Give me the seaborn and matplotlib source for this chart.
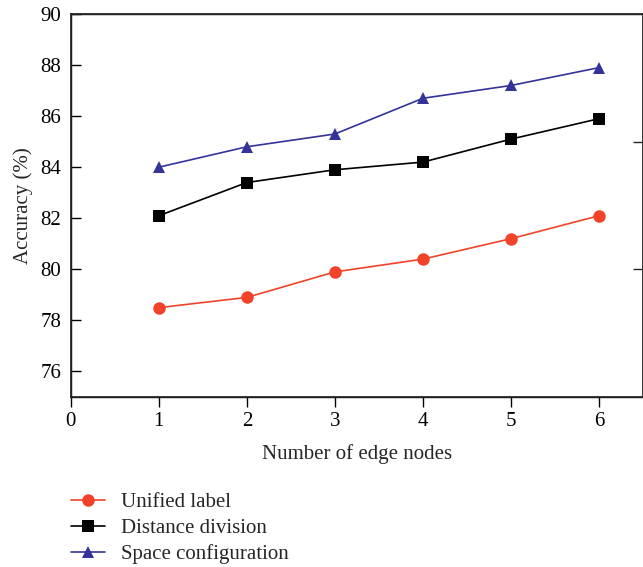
import matplotlib
matplotlib.use("Agg")
import matplotlib.pyplot as plt
import seaborn as sns
import pandas as pd

nodes = [1, 2, 3, 4, 5, 6]
unified_label = [78.5, 78.9, 79.9, 80.4, 81.2, 82.1]
distance_division = [82.1, 83.4, 83.9, 84.2, 85.1, 85.9]
space_configuration = [84.0, 84.8, 85.3, 86.7, 87.2, 87.9]
series_names = ["Unified label", "Distance division", "Space configuration"]
x_ticks = [0, 1, 2, 3, 4, 5, 6]
y_ticks = [76, 78, 80, 82, 84, 86, 88, 90]

sns.set_theme(style="ticks")
plt.rcParams["font.family"] = ["Liberation Serif", "DejaVu Serif"]

FS = 15
fig = plt.figure(figsize=(6.43, 5.67), dpi=100)
ax = fig.add_axes([0.110, 0.2998, 0.890, 0.6755])

styles = [("#F2432A", "o", 9), ("#000000", "s", 8.5), ("#33339A", "^", 9)]
for name, vals, (c, m, ms) in zip(series_names,
                                 [unified_label, distance_division, space_configuration],
                                 styles):
    df = pd.DataFrame({"x": nodes, "y": vals})
    sns.lineplot(data=df, x="x", y="y", ax=ax, color=c, marker=m, markersize=ms,
                 markeredgewidth=0, linewidth=1.2, label=name)

ax.set_xlim(0, 6.5)
ax.set_ylim(75, 90)
ax.set_xticks(x_ticks)
ax.set_yticks(y_ticks)
ax.tick_params(axis="y", direction="in", length=7, width=1.0, labelsize=FS,
               colors="black", pad=7)
ax.tick_params(axis="x", direction="out", length=7, width=1.0, labelsize=FS,
               colors="black", pad=4)
for s in ax.spines.values():
    s.set_linewidth(1.0)
    s.set_color("black")
ax.set_xlabel("Number of edge nodes", fontsize=FS, labelpad=9)
ax.set_ylabel("Accuracy (%)", fontsize=FS, labelpad=5)

ax2 = ax.twinx()
ax2.set_ylim(75, 90)
ax2.set_yticks([80, 85])
ax2.tick_params(direction="in", length=7, width=1.0, labelright=False)

leg = ax.legend(loc="upper left", bbox_to_anchor=(0.0, -0.25), frameon=False,
                fontsize=FS, handlelength=1.65, handletextpad=0.75,
                labelspacing=0.3, borderaxespad=0, borderpad=0)

fig.savefig("out.png", dpi=100)
